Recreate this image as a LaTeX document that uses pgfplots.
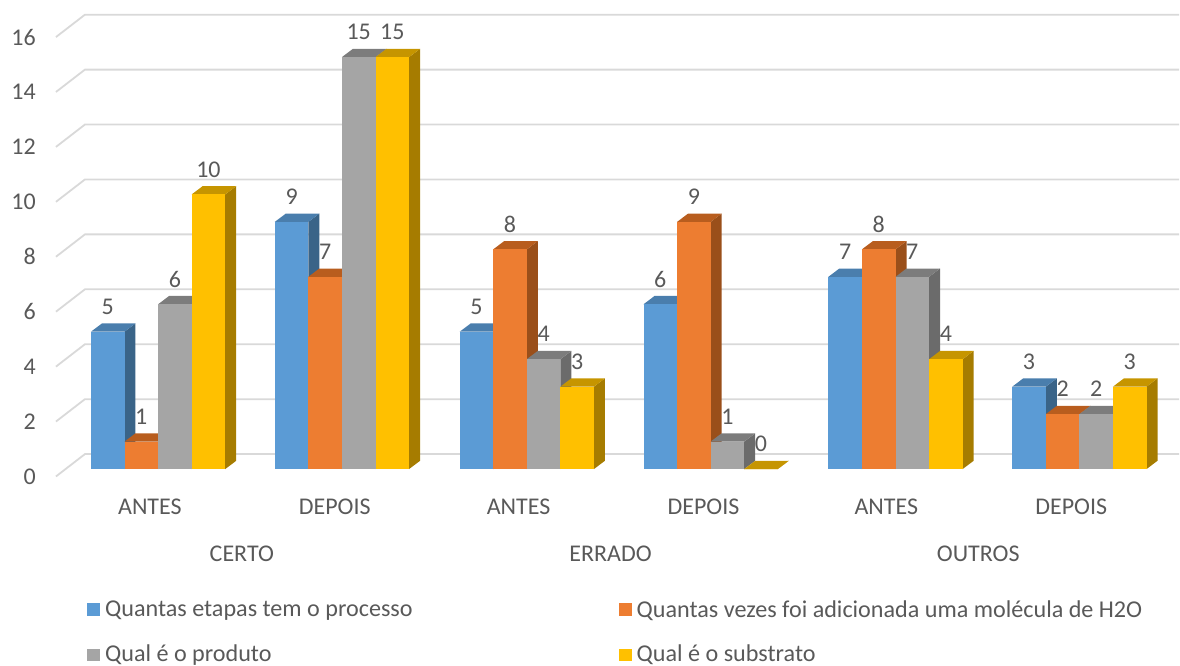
\documentclass[border=0pt]{standalone}
\usepackage{fontspec}
\setmainfont{Carlito}
\usepackage{pgfplots}
\pgfplotsset{compat=1.18}
\definecolor{txt}{HTML}{595959}
\definecolor{gridc}{HTML}{D9D9D9}
\definecolor{bF}{HTML}{5B9BD5}\definecolor{bT}{HTML}{4A7EAD}\definecolor{bS}{HTML}{3A6488}
\definecolor{oF}{HTML}{ED7D31}\definecolor{oT}{HTML}{B85D1E}\definecolor{oS}{HTML}{9A4F1A}
\definecolor{gF}{HTML}{A5A5A5}\definecolor{gT}{HTML}{7C7C7C}\definecolor{gS}{HTML}{6B6B6B}
\definecolor{yF}{HTML}{FFC000}\definecolor{yT}{HTML}{C69500}\definecolor{yS}{HTML}{A67C00}
% #1 left x, #2 value, #3 colour prefix
\newcommand\bard[3]{%
  \pgfmathsetmacro\xa{#1}\pgfmathsetmacro\xb{#1+33.6}\pgfmathsetmacro\xc{#1+33.6+11}%
  \pgfmathsetmacro\xd{#1+11}\pgfmathsetmacro\xm{#1+16.8}\pgfmathsetmacro\vt{#2+0.302}%
  \addplot[fill=#3S,draw=none,forget plot] coordinates {(\xb,0)(\xc,0.302)(\xc,\vt)(\xb,#2)} --cycle;
  \addplot[fill=#3T,draw=none,forget plot] coordinates {(\xa,#2)(\xd,\vt)(\xc,\vt)(\xb,#2)} --cycle;
  \addplot[ybar,bar width=33.6,bar shift=0pt,fill=#3F,draw=none,forget plot] coordinates {(\xm,#2)};
}
\newcommand\gridl[3]{%
  \addplot[gridc,line width=1.8pt,forget plot] coordinates {(56,#1)(85,#2)(1180,#2)};
}
\begin{document}
\begin{tikzpicture}
\begin{axis}[
  scale only axis, width=1180pt, height=666pt,
  at={(0,0)}, anchor=south west,
  xmin=0, xmax=1180, ymin=-7.1527, ymax=17.08,
  clip=false,
  axis line style={draw=none},
  tick style={draw=none},
  /pgf/number format/assume math mode=true,
  ytick={-0.27,1.73,3.73,5.73,7.73,9.73,11.73,13.73,15.73},
  yticklabels={0,2,4,6,8,10,12,14,16},
  yticklabel style={font=\fontsize{24}{26}\selectfont,text=txt,anchor=east,xshift=36pt,inner sep=0pt},
  xtick={150,335,519,704,887,1072},
  xticklabels={ANTES,DEPOIS,ANTES,DEPOIS,ANTES,DEPOIS},
  xticklabel style={font=\fontsize{24}{26}\selectfont,text=txt,anchor=center,yshift=159pt,inner sep=0pt},
  extra x ticks={242,611,979},
  extra x tick labels={CERTO,ERRADO,OUTROS},
  extra x tick style={tick label style={yshift=-47pt}},
]
\gridl{-0.27}{0.545}{}
\gridl{1.73}{2.545}{}
\gridl{3.73}{4.545}{}
\gridl{5.73}{6.545}{}
\gridl{7.73}{8.545}{}
\gridl{9.73}{10.545}{}
\gridl{11.73}{12.545}{}
\gridl{13.73}{14.545}{}
\gridl{15.73}{16.545}{}
% CERTO ANTES
\bard{91}{5}{b}\bard{124.6}{1}{o}\bard{158.2}{6}{g}\bard{191.8}{10}{y}
% CERTO DEPOIS
\bard{275}{9}{b}\bard{308.6}{7}{o}\bard{342.2}{15}{g}\bard{375.8}{15}{y}
% ERRADO ANTES
\bard{460}{5}{b}\bard{493.6}{8}{o}\bard{527.2}{4}{g}\bard{560.8}{3}{y}
% ERRADO DEPOIS
\bard{644}{6}{b}\bard{677.6}{9}{o}\bard{711.2}{1}{g}\bard{744.8}{0}{y}
% OUTROS ANTES
\bard{829}{7}{b}\bard{862.6}{8}{o}\bard{896.2}{7}{g}\bard{929.8}{4}{y}
% OUTROS DEPOIS
\bard{1013}{3}{b}\bard{1046.6}{2}{o}\bard{1080.2}{2}{g}\bard{1113.8}{3}{y}
% data labels
\addplot[draw=none,mark=none,forget plot,
  nodes near coords,
  every node near coord/.append style={font=\fontsize{24}{26}\selectfont,text=txt,anchor=center,yshift=25pt,inner sep=0pt},
  /pgf/number format/assume math mode=true]
coordinates {
(107.8,5)(141.4,1)(175,6)(208.6,10)
(291.8,9)(325.4,7)(359,15)(392.6,15)
(476.8,5)(510.4,8)(544,4)(577.6,3)
(660.8,6)(694.4,9)(728,1)(761.6,0)
(845.8,7)(879.4,8)(913,7)(946.6,4)
(1029.8,3)(1063.4,2)(1097,2)(1130.6,3)
};
\end{axis}
% legend
\fill[bF] (87pt,49.5pt) rectangle (100pt,62.5pt);
\fill[oF] (619pt,49.5pt) rectangle (632pt,62.5pt);
\fill[gF] (87pt,4pt) rectangle (100pt,17pt);
\fill[yF] (619pt,4pt) rectangle (632pt,17pt);
\begin{scope}[every node/.style={anchor=west,inner sep=0pt,text=txt,font=\fontsize{24.15}{26}\selectfont}]
\node at (105pt,54.5pt) {Quantas etapas tem o processo};
\node at (637pt,54.5pt) {Quantas vezes foi adicionada uma molécula de H2O};
\node at (105pt,10.5pt) {Qual é o produto};
\node at (637pt,10.5pt) {Qual é o substrato};
\end{scope}
\end{tikzpicture}
\end{document}
